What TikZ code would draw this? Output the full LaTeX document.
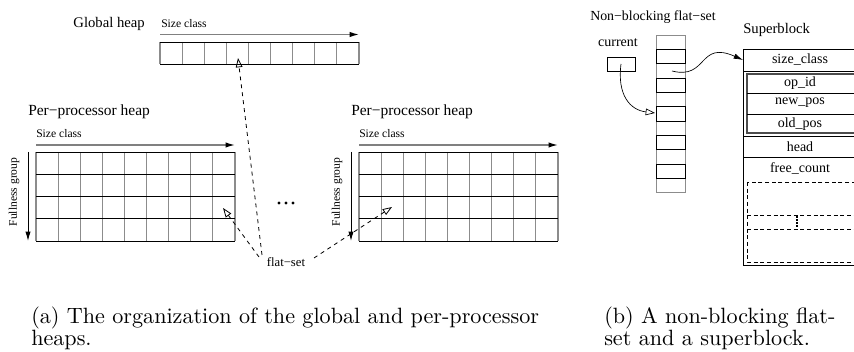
\documentclass[tikz,border=0pt]{standalone}
\usepackage{fontspec}
\newfontfamily\tms{Liberation Serif}
\newfontfamily\capfont{lmroman10-regular}[Extension=.otf]
\usetikzlibrary{arrows.meta}
\begin{document}
\begin{tikzpicture}[x=0.75pt,y=-0.75pt,
  vline/.style={draw=black!45, line width=0.9pt},
  hline/.style={draw=black, line width=0.6pt},
  axis/.style={draw=black!50, line width=0.9pt, -{Latex[length=7pt,width=4pt,black]}},
  vaxis/.style={draw=black, line width=0.7pt, -{Latex[length=7pt,width=4pt,black]}},
  lbl/.style={font=\tms\fontsize{11}{13}\selectfont, inner sep=0pt},
  small/.style={font=\tms\fontsize{8.7}{10}\selectfont, inner sep=0pt},
  field/.style={font=\tms\fontsize{10.5}{12}\selectfont, inner sep=0pt},
  flat/.style={dash pattern=on 3pt off 3pt, line width=0.6pt, -{Triangle[open,length=7pt,width=5pt]}},
  capt/.style={font=\capfont\fontsize{16.6}{19}\selectfont, inner sep=0pt, anchor=base west},
]
\useasboundingbox (0,0) rectangle (854,352);

% ---------- Global heap ----------
\foreach \i in {0,...,9} \draw[vline] ({160+\i*22.1},42) -- ({160+\i*22.1},64);
\draw[hline] (160,42) -- (358.9,42) (160,64) -- (358.9,64);
\coordinate (gs) at (160,34.5);
\coordinate (ge) at (359,34.5);
\draw[axis] (gs) -- (ge);
\node[small,anchor=west] (gsc) at (161,24) {Size class};
\node[lbl,anchor=east] (gh) at (145,24) {Global heap};

% ---------- Per-processor heaps ----------
\foreach \ox/\n in {36/L,359/R} {
  \foreach \i in {0,...,9} \draw[vline] ({\ox+\i*22.1},152) -- ({\ox+\i*22.1},241);
  \foreach \j in {0,...,4} \draw[hline] (\ox,{152+\j*22.25}) -- ({\ox+198.9},{152+\j*22.25});
  \coordinate (sa\n) at (\ox,145);
  \coordinate (sb\n) at ({\ox+198.9},145);
  \draw[axis] (sa\n) -- (sb\n);
  \coordinate (fa\n) at ({\ox-8},152);
  \coordinate (fb\n) at ({\ox-8},241);
  \draw[vaxis] (fa\n) -- (fb\n);
  \node[small,anchor=west] (psc\n) at (\ox,134) {Size class};
  \node[lbl,anchor=west,font=\tms\fontsize{11.6}{13}\selectfont] (ph\n) at ({\ox-8},112) {Per−processor heap};
  \node[small,rotate=90] (fg\n) at ({\ox-22},192) {Fullness group};
}

% ellipsis
\foreach \x in {279,286,293} \fill (\x,203) circle (1.6);

% flat-set arrows
\node[font=\tms\fontsize{9.5}{11}\selectfont, inner sep=0pt] (fs) at (286,262) {flat−set};
\coordinate (tg) at (238,58);
\coordinate (tl) at (223,208);
\coordinate (tr) at (392,207);
\coordinate (fs1) at (262,255);
\coordinate (fs2) at (259,257);
\coordinate (fs3) at (314,258);
\draw[flat] (fs1) -- (tg);
\draw[flat] (fs2) -- (tl);
\draw[flat] (fs3) -- (tr);

% ---------- Right panel: flat-set ----------
\node[lbl,anchor=west,font=\tms\fontsize{10.4}{12}\selectfont] (nb) at (590,17) {Non−blocking flat−set};
\node[field] (curlbl) at (618,43) {current};
\draw[line width=0.6pt] (607,57) rectangle (635,71);
\coordinate (cur) at (621,64);
\foreach \k in {0,...,10} \draw[draw=black!45, line width=0.7pt] (656,{35+\k*14.36}) rectangle (685,{35+(\k+1)*14.36});
\foreach \k in {1,3,5,7,9} \draw[line width=0.6pt] (656,{35+\k*14.36}) rectangle (685,{35+(\k+1)*14.36});
\coordinate (cell6) at (655,113);
\coordinate (cell3) at (672,71);
\draw[line width=0.5pt, -{Triangle[open,length=7pt,width=5pt]}] (cur) .. controls (617,95) and (630,110) .. (cell6);

% ---------- Superblock ----------
\node[lbl,anchor=west] (sbt) at (743,30) {Superblock};
\coordinate (sbtl) at (743,60);
\draw[line width=0.5pt, -{Latex[length=7pt,width=4pt]}] (cell3) .. controls (708,80) and (698,40) .. (sbtl);
\draw[line width=0.7pt] (743,49) rectangle (858,265);
\draw[line width=0.6pt] (743,71) -- (858,71) (743,136) -- (858,136) (743,157) -- (858,157);
\draw[line width=0.8pt, draw=black!70] (747,74) rectangle (855,133);
\draw[line width=0.6pt] (747,93) -- (855,93) (747,114) -- (855,114);
\node[field] (f1) at (800,60) {size\_class};
\node[field] (f2) at (800,83) {op\_id};
\node[field] (f3) at (800,103) {new\_pos};
\node[field] (f4) at (800,124) {old\_pos};
\node[field] (f5) at (800,146.5) {head};
\node[field] (f6) at (800,168) {free\_count};
\draw[dash pattern=on 3pt off 2pt, line width=0.6pt] (747,182) rectangle (858,262);
\draw[dash pattern=on 3pt off 2pt, line width=0.6pt] (747,215) -- (858,215) (747,229) -- (858,229);
\draw[dash pattern=on 1pt off 1.2pt, line width=1.2pt] (797,216.5) -- (797,228);

% ---------- Captions ----------
\node[capt] (ca1) at (31,324) {(a) The organization of the global and per-processor};
\node[capt] (ca2) at (31,346) {heaps.};
\node[capt] (cb1) at (604,324) {(b) A non-blocking flat-};
\node[capt] (cb2) at (604,346) {set and a superblock.};
\end{tikzpicture}
\end{document}
